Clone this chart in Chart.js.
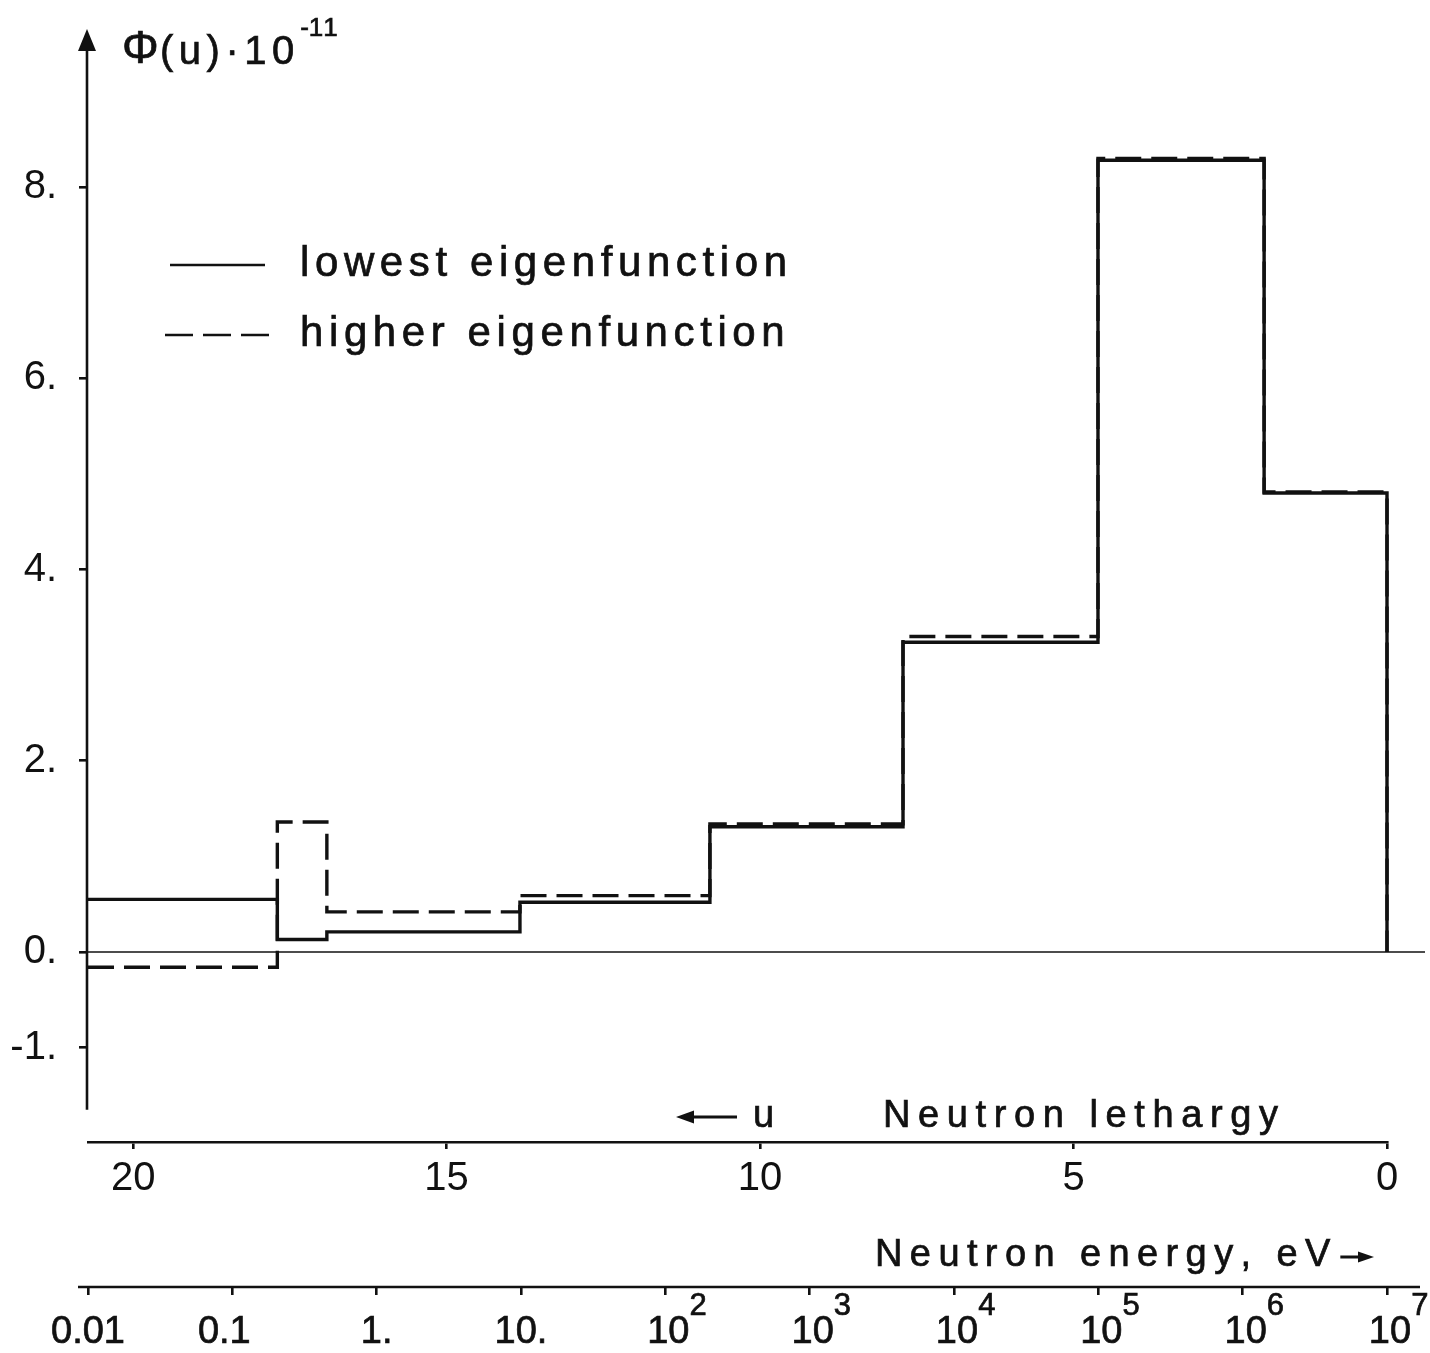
<!DOCTYPE html>
<html>
<head>
<meta charset="utf-8">
<title>Neutron flux eigenfunctions</title>
<script src="https://cdn.jsdelivr.net/npm/chart.js@4.4.1/dist/chart.umd.min.js"></script>
<style>
    html, body { margin: 0; padding: 0; background: #fff; }
    canvas { display: block; }
</style>
</head>
<body>
<canvas id="chart" width="1430" height="1353"></canvas>
<script>
// group boundaries in lethargy u (left -> right), last edge is u = 0
const binEdges = [20.72, 17.70, 16.91, 13.83, 10.80, 7.72, 4.61, 1.96, 0];
// flux per group, units of 1e-11
const lowestValues = [0.55, 0.13, 0.21, 0.52, 1.31, 3.24, 8.28, 4.80];
const higherValues = [-0.16, 1.36, 0.42, 0.59, 1.34, 3.30, 8.30, 4.81];

const yTicks = [-1, 0, 2, 4, 6, 8];
const yTickLabels = ['-1.', '0.', '2.', '4.', '6.', '8.'];
const uTicks = [20, 15, 10, 5, 0];
const energyTicks = [0.01, 0.1, 1, 10, 1e2, 1e3, 1e4, 1e5, 1e6, 1e7];
const energyBase = ['0.01', '0.1', '1.', '10.', '10', '10', '10', '10', '10', '10'];
const energyExp = ['', '', '', '', '2', '3', '4', '5', '6', '7'];

const U_MAX = 20.72;
const Y_MIN = -1.987;
const Y_MAX = 9.642;
const INK = '#111';
const FONT = '"Liberation Sans", Arial, sans-serif';

function stepPoints(edges, values) {
    const pts = values.map((v, i) => ({ x: edges[i], y: v }));
    pts.push({ x: edges[edges.length - 1], y: 0 });
    return pts;
}

function spacedText(ctx, text, x, y, spacing, align) {
    const chars = Array.from(text);
    let total = 0;
    chars.forEach((c, i) => {
        total += ctx.measureText(c).width + (i < chars.length - 1 ? spacing : 0);
    });
    let cx = x;
    if (align === 'center') cx = x - total / 2;
    else if (align === 'right') cx = x - total;
    ctx.textAlign = 'left';
    chars.forEach(c => {
        ctx.fillText(c, cx, y);
        ctx.strokeText(c, cx, y);
        cx += ctx.measureText(c).width + spacing;
    });
    return cx - spacing;
}

function arrowHead(ctx, x, y, dir, len, half) {
    // dir: 'left' | 'right' | 'up'
    ctx.beginPath();
    if (dir === 'left') {
        ctx.moveTo(x, y); ctx.lineTo(x + len, y - half); ctx.lineTo(x + len, y + half);
    } else if (dir === 'right') {
        ctx.moveTo(x, y); ctx.lineTo(x - len, y - half); ctx.lineTo(x - len, y + half);
    } else {
        ctx.moveTo(x, y); ctx.lineTo(x - half, y + len); ctx.lineTo(x + half, y + len);
    }
    ctx.closePath();
    ctx.fill();
}

const decorPlugin = {
    id: 'decor',
    beforeDatasetsDraw(chart) {
        const { ctx, scales } = chart;
        const y0 = scales.y.getPixelForValue(0);
        ctx.save();
        ctx.strokeStyle = INK;
        ctx.lineWidth = 1.6;
        ctx.beginPath();
        ctx.moveTo(80, y0);
        ctx.lineTo(1425, y0);
        ctx.stroke();
        ctx.restore();
    },
    afterDraw(chart) {
        const { ctx, scales, chartArea } = chart;
        const x = scales.x, e = scales.x2, y = scales.y;
        ctx.save();
        ctx.fillStyle = INK;
        ctx.strokeStyle = INK;

        // y axis with arrow
        const ax = chartArea.left - 1;
        ctx.lineWidth = 2.6;
        ctx.beginPath();
        ctx.moveTo(ax, y.getPixelForValue(-1.65));
        ctx.lineTo(ax, 48);
        ctx.stroke();
        arrowHead(ctx, ax, 29, 'up', 22, 9);

        // energy axis line, longer than the plot area
        ctx.beginPath();
        ctx.moveTo(78, e.top);
        ctx.lineTo(1420, e.top);
        ctx.stroke();

        // text gets a thin outline to match the heavier plotter strokes
        ctx.lineWidth = 0.7;
        ctx.textBaseline = 'alphabetic';

        // energy tick labels with exponents
        energyTicks.forEach((v, i) => {
            const px = e.getPixelForValue(v);
            ctx.font = '38px ' + FONT;
            const w = ctx.measureText(energyBase[i]).width;
            const left = px - w / 2 + (energyExp[i] ? 3 : 0) - (i === 1 ? 8 : 0);
            spacedText(ctx, energyBase[i], left, e.top + 56, 0, 'left');
            if (energyExp[i]) {
                ctx.font = '31px ' + FONT;
                spacedText(ctx, energyExp[i], left + w, e.top + 28, 0, 'left');
            }
        });

        // lethargy axis caption
        ctx.font = '38px ' + FONT;
        const capY = x.top - 15;
        ctx.save();
        ctx.lineWidth = 3;
        ctx.beginPath();
        ctx.moveTo(690, x.top - 25);
        ctx.lineTo(737, x.top - 25);
        ctx.stroke();
        arrowHead(ctx, 676, x.top - 25, 'left', 18, 6.5);
        ctx.restore();
        spacedText(ctx, 'u', 753, capY, 0, 'left');
        spacedText(ctx, 'Neutron lethargy', 883, capY, 7.6, 'left');

        // energy axis caption
        const endX = spacedText(ctx, 'Neutron energy, eV', 875, e.top - 21, 7.4, 'left');
        ctx.save();
        ctx.lineWidth = 3;
        ctx.beginPath();
        ctx.moveTo(endX + 10, e.top - 30);
        ctx.lineTo(1360, e.top - 30);
        ctx.stroke();
        arrowHead(ctx, 1374, e.top - 30, 'right', 16, 5.5);
        ctx.restore();

        // y title
        ctx.font = '46px ' + FONT;
        spacedText(ctx, '\u03A6', 122, 63, 0, 'left');
        ctx.font = '40px ' + FONT;
        const tEnd = spacedText(ctx, '(u)\u00B710', 160, 64, 5.5, 'left');
        ctx.font = '26px ' + FONT;
        spacedText(ctx, '-11', tEnd + 6, 36, 0, 'left');

        // legend
        ctx.font = '42px ' + FONT;
        const rows = [276, 346];
        chart.data.datasets.forEach((ds, i) => {
            const dashed = ds.borderDash && ds.borderDash.length > 0;
            const ly = rows[i] - 11;
            ctx.save();
            ctx.lineWidth = 2.6;
            ctx.setLineDash(dashed ? [28, 10] : []);
            ctx.beginPath();
            ctx.moveTo(dashed ? 165 : 170, ly);
            ctx.lineTo(dashed ? 272 : 265, ly);
            ctx.stroke();
            ctx.restore();
            spacedText(ctx, ds.label, 300, rows[i], 5.6, 'left');
        });
        ctx.restore();
    }
};

Chart.defaults.font.family = FONT;
Chart.defaults.color = INK;

new Chart(document.getElementById('chart'), {
    type: 'line',
    data: {
        datasets: [
            {
                label: 'lowest eigenfunction',
                data: stepPoints(binEdges, lowestValues),
                borderColor: INK,
                borderWidth: 3.4,
                borderDash: [],
                stepped: 'before',
                pointRadius: 0,
                fill: false,
                clip: 4
            },
            {
                label: 'higher eigenfunction',
                data: stepPoints(binEdges, higherValues),
                borderColor: INK,
                borderWidth: 3.4,
                borderDash: [26, 10],
                stepped: 'before',
                pointRadius: 0,
                fill: false,
                clip: 4
            }
        ]
    },
    options: {
        responsive: false,
        animation: false,
        layout: { padding: { top: 30, right: 43, left: 0, bottom: 0 } },
        plugins: {
            legend: { display: false },
            tooltip: { enabled: false }
        },
        scales: {
            x: {
                type: 'linear',
                position: 'bottom',
                reverse: true,
                min: 0,
                max: U_MAX,
                weight: 0,
                afterBuildTicks: s => { s.ticks = uTicks.map(v => ({ value: v })); },
                afterFit: s => { s.height = 145; s.paddingLeft = 0; s.paddingRight = 0; },
                border: { display: true, color: INK, width: 2.6 },
                grid: { drawOnChartArea: false, drawTicks: true, tickLength: 7, color: INK, lineWidth: 2.6 },
                ticks: { font: { size: 40 }, color: INK, padding: 6, maxRotation: 0 }
            },
            x2: {
                type: 'logarithmic',
                position: 'bottom',
                min: 0.01,
                max: 1e7,
                weight: 1,
                afterBuildTicks: s => { s.ticks = energyTicks.map(v => ({ value: v })); },
                afterFit: s => { s.height = 66; s.paddingLeft = 0; s.paddingRight = 0; },
                border: { display: false },
                grid: { drawOnChartArea: false, drawTicks: true, tickLength: 8, color: INK, lineWidth: 2.6 },
                ticks: { display: false }
            },
            y: {
                type: 'linear',
                position: 'left',
                min: Y_MIN,
                max: Y_MAX,
                afterBuildTicks: s => { s.ticks = yTicks.map(v => ({ value: v })); },
                afterFit: s => { s.width = 88; s.paddingTop = 0; s.paddingBottom = 0; },
                border: { display: false },
                grid: { drawOnChartArea: false, drawTicks: true, tickLength: 9, color: INK, lineWidth: 2.6 },
                ticks: {
                    font: { size: 40 },
                    color: INK,
                    padding: 22,
                    callback: v => yTickLabels[yTicks.indexOf(v)]
                }
            }
        }
    },
    plugins: [decorPlugin]
});
</script>
</body>
</html>
